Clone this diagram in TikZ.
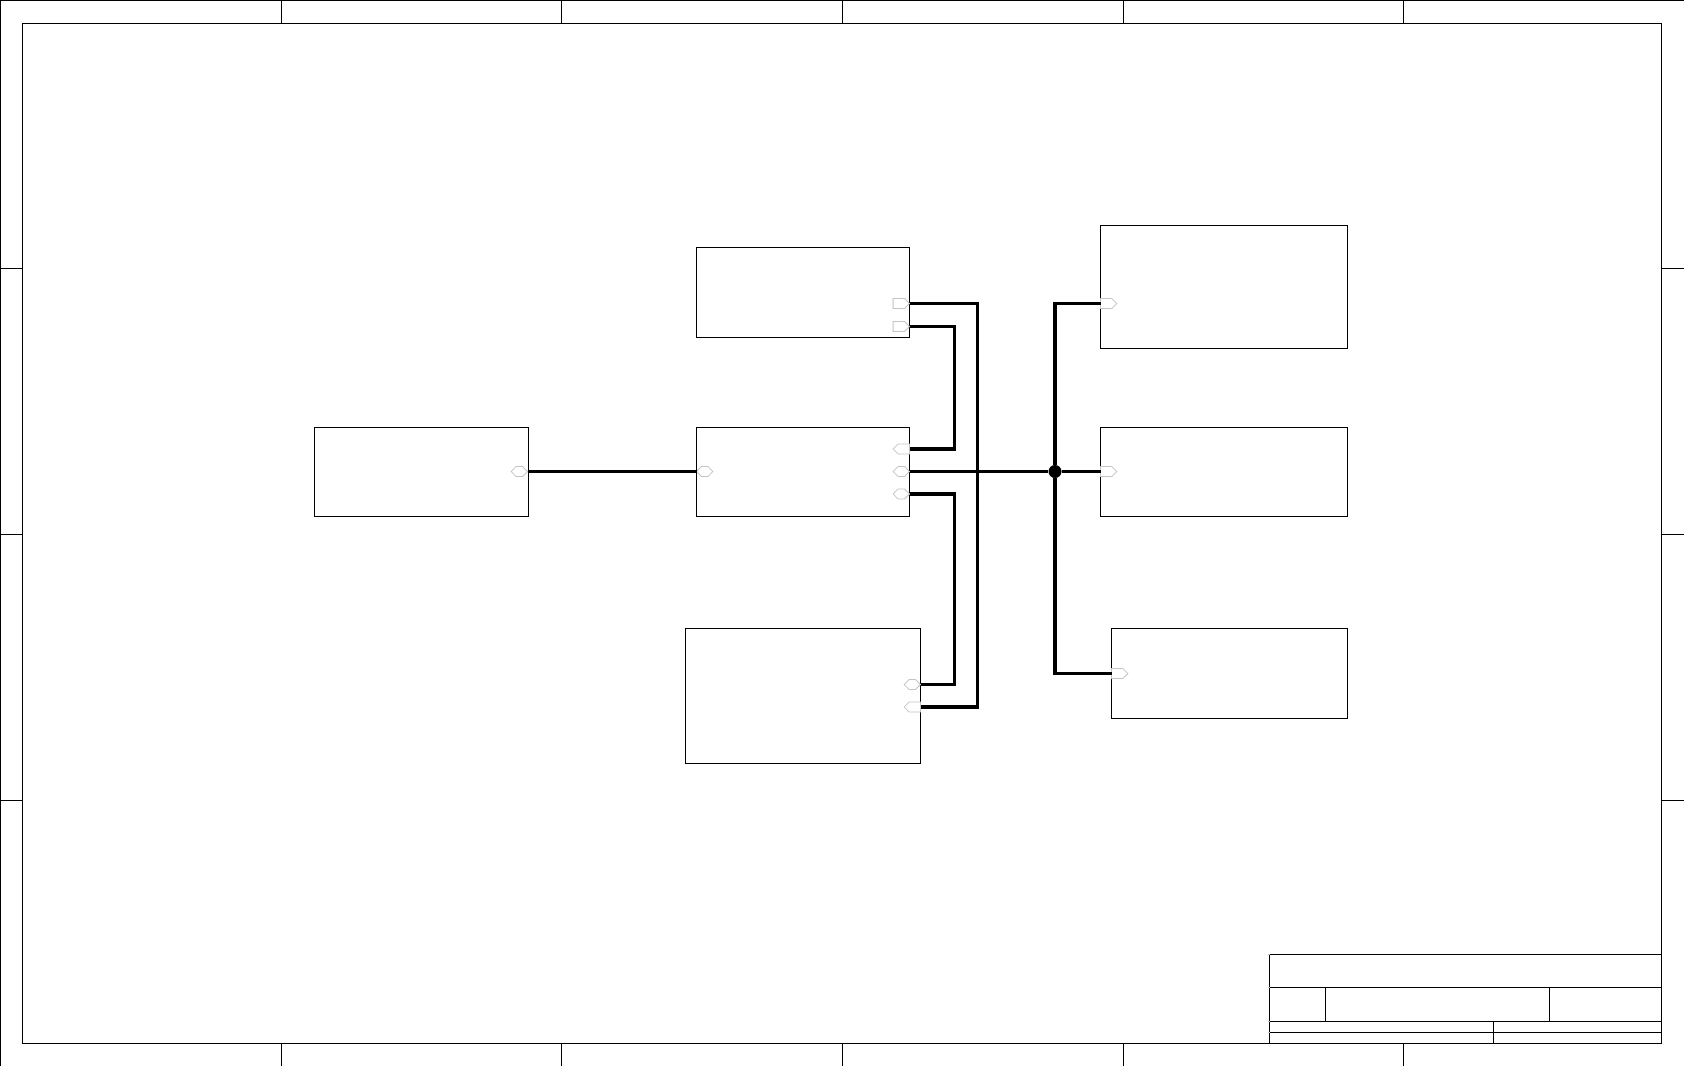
\documentclass[tikz,border=0pt]{standalone}
\usepackage{xcolor}
\usetikzlibrary{positioning, shapes.symbols}
\definecolor{ink}{HTML}{000000}
\definecolor{portline}{HTML}{C4C4C4}
\tikzset{
  frame/.style    ={draw=ink, line width=0.5pt},
  blockbox/.style ={draw=ink, line width=0.5pt, fill=white, inner sep=0pt, outer sep=0pt},
  portbase/.style ={draw=portline, line width=0.4pt, fill=white, signal, inner sep=0pt, outer sep=0pt,
                    minimum width=8.2pt, minimum height=5pt},
  portr/.style    ={portbase, signal to=east},
  portl/.style    ={portbase, signal to=west},
  porth/.style    ={portbase, signal to=east and west},
  wire/.style     ={draw=ink, line width=1.65pt},
  junction/.style ={circle, fill=ink, inner sep=0pt, minimum size=6.5pt}
}
\begin{document}
\begin{tikzpicture}[x=0.5pt, y=-0.5pt]
  \useasboundingbox (0,0) rectangle (1684,1066);
  % sheet border
  \draw[frame] (0.5,1066) -- (0.5,0.5) -- (1684,0.5);
  \draw[frame] (22.5,23.5) rectangle (1661.5,1043.5);
  \foreach \xtick in {281.5,561.5,842.5,1123.5,1403.5} {
    \draw[frame] (\xtick,0) -- (\xtick,23.5);
    \draw[frame] (\xtick,1043.5) -- (\xtick,1066);
  }
  \foreach \ytick in {268.5,534.5,800.5} {
    \draw[frame] (0,\ytick) -- (22.5,\ytick);
    \draw[frame] (1661.5,\ytick) -- (1684,\ytick);
  }
  % title block
  \draw[frame] (1269.5,1043.5) -- (1269.5,954.5) -- (1661.5,954.5);
  \draw[frame] (1269.5,987.5) -- (1661.5,987.5);
  \draw[frame] (1269.5,1021.5) -- (1661.5,1021.5);
  \draw[frame] (1269.5,1032.5) -- (1661.5,1032.5);
  \draw[frame] (1325.5,987.5) -- (1325.5,1021.5);
  \draw[frame] (1549.5,987.5) -- (1549.5,1021.5);
  \draw[frame] (1493.5,1021.5) -- (1493.5,1043.5);
  \foreach \ystub in {954.5,987.5,1021.5,1032.5}
    \draw[draw=portline, line width=0.5pt] (1268,\ystub) -- (1269.5,\ystub);

  % blocks
  \node[blockbox, minimum width=106.9pt, minimum height=44.7pt] (midblk) at (803,472) {};
  \node[blockbox, minimum width=106.9pt, minimum height=45pt, above=44.9pt of midblk] (topblk) {};
  \node[blockbox, minimum width=117.7pt, minimum height=67.5pt, below=55.9pt of midblk] (botblk) {};
  \node[blockbox, minimum width=106.9pt, minimum height=44.7pt, left=83.8pt of midblk] (srcblk) {};
  \node[blockbox, minimum width=123.6pt, minimum height=44.7pt, right=95.3pt of midblk] (fblk) {};
  \node[blockbox, minimum width=123.6pt, minimum height=61.5pt, above=39.5pt of fblk] (eblk) {};
  \node[blockbox, minimum width=118pt, minimum height=45pt, below=55.9pt of fblk.south east, anchor=north east] (gblk) {};

  % ports
  \node[porth, anchor=east] (srcp) at (527.5,471.5) {};
  \node[porth, anchor=west] (midin) at (696.5,471.5) {};
  \node[portr, anchor=east] (topa) at (909.5,303.5) {};
  \node[portr, anchor=east] (topb) at (909.5,326.5) {};
  \node[portl, anchor=east] (mida) at (909.5,449) {};
  \node[porth, anchor=east] (midb) at (909.5,471.5) {};
  \node[porth, anchor=east] (midc) at (909.5,494) {};
  \node[porth, anchor=east] (bota) at (920.5,684.5) {};
  \node[portl, anchor=east] (botb) at (920.5,707) {};
  \node[portr, anchor=west] (ein) at (1100.5,303.5) {};
  \node[portr, anchor=west] (fin) at (1100.5,471.5) {};
  \node[portr, anchor=west] (gin) at (1111.5,673.5) {};

  % routing points
  \coordinate (busa) at (977.5,500);
  \coordinate (busb) at (954.5,388);
  \coordinate (busc) at (954.5,590);
  \node[junction] (tee) at (1055,471.5) {};

  \draw[wire] (srcp.east) -- (midin.west);
  \draw[wire] (topa.east) -| (busa) |- (botb.east);
  \draw[wire] (topb.east) -| (busb) |- (mida.east);
  \draw[wire] (midc.east) -| (busc) |- (bota.east);
  \draw[wire] (midb.east) -- (tee) -- (fin.west);
  \draw[wire] (ein.west) -| (tee) |- (gin.west);
\end{tikzpicture}
\end{document}
